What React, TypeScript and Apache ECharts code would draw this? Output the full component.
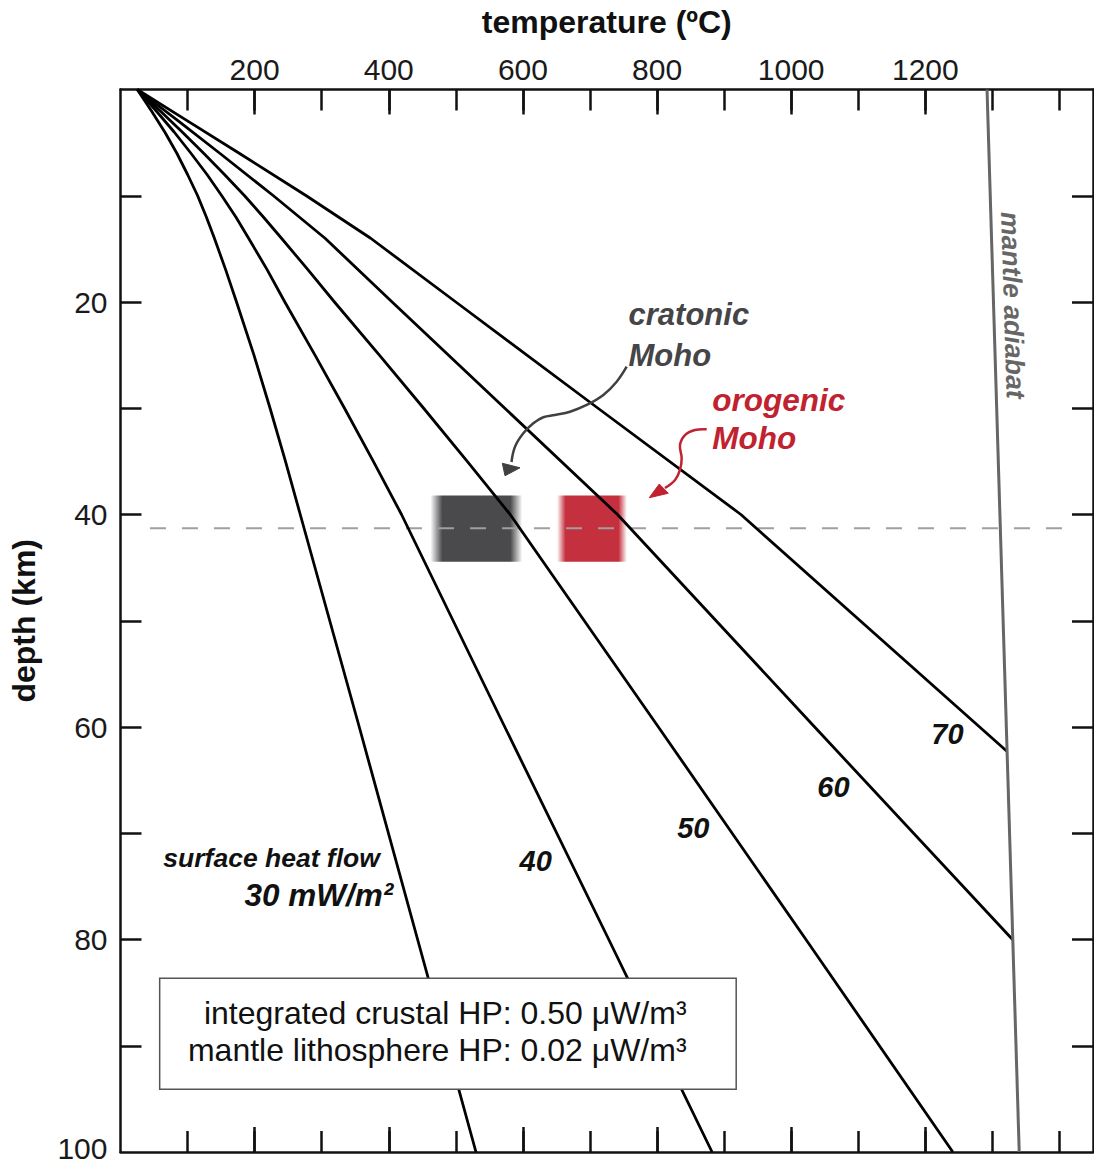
import React, { useEffect, useRef } from "react";
import * as echarts from "echarts";

const FONT = '"Liberation Sans", Arial, Helvetica, sans-serif';

// axes
const X_MIN = 0;
const X_MAX = 1450;
const Y_MIN = 0;
const Y_MAX = 100;
const xLabelValues = [200, 400, 600, 800, 1000, 1200];
const xAllTicks = [100, 200, 300, 400, 500, 600, 700, 800, 900, 1000, 1100, 1200, 1300, 1400];
const xMajorTicks = [200, 400, 600, 800, 1000, 1200];
const yLabelValues = [20, 40, 60, 80, 100];
const yTicks = [10, 20, 30, 40, 50, 60, 70, 80, 90];

// geotherms (depth km, temperature °C)
const depth30 = [0, 2, 4, 6, 8, 10, 12, 14, 17, 20, 25, 30, 35, 40, 60, 80, 100];
const temp30 = [25, 46, 66, 84, 100, 115, 128, 140, 157, 173, 199, 223, 246, 268, 356, 443, 530];
const depth40 = [0, 2, 4, 6, 8, 10, 12, 14, 17, 20, 25, 30, 35, 40, 60, 80, 100];
const temp40 = [25, 53, 80, 105, 129, 151, 172, 191, 219, 245, 290, 334, 377, 419, 573, 728, 882];
const depth50 = [0, 2, 4, 6, 8, 10, 12, 14, 17, 20, 25, 30, 35, 40, 60, 80, 100];
const temp50 = [25, 59, 92, 124, 155, 185, 213, 240, 280, 319, 386, 452, 517, 581, 802, 1022, 1241];
const depth60 = [0, 3, 6, 10, 14, 20, 30, 40, 60, 80];
const temp60 = [25, 87, 148, 228, 305, 405, 573, 741, 1035, 1330];
const depth70 = [0, 3, 6, 10, 14, 20, 30, 40, 62.3];
const temp70 = [25, 101, 177, 277, 373, 500, 712, 925, 1322];

// mantle adiabat
const adiabatDepth = [0, 100];
const adiabatTemp = [1292, 1340];

// Moho reference line
const mohoDepth = 41.3;
const mohoTemp = [44, 1404];

// Moho temperature ranges
const cratonicT = [462, 599];
const orogenicT = [651, 755];
const mohoBandDepth = [38.2, 44.45];

// heat-flow labels [text, T, depth]
const flowLabels: [string, number, number][] = [
  ["70", 1233, 60.7],
  ["60", 1063, 65.6],
  ["50", 854, 69.5],
  ["40", 619, 72.6],
];

// annotation arrows (T, depth)
const cratonicArrowT = [754.7, 739.8, 719.9, 695.1, 670.2, 647.8, 630.4, 615.5, 600.6, 588.2, 583.0];
const cratonicArrowD = [26.09, 27.5, 28.75, 29.69, 30.33, 30.64, 30.85, 31.42, 32.36, 33.62, 35.06];
const cratonicHeadT = [573.3, 569.3, 595.7];
const cratonicHeadD = [36.35, 35.18, 35.6];
const orogenicArrowT = [874.0, 856.6, 841.7, 834.2, 836.7, 834.2, 826.8, 811.8];
const orogenicArrowD = [31.98, 32.05, 32.52, 33.46, 34.71, 35.81, 36.75, 37.51];
const orogenicHeadT = [788.4, 803.3, 816.8];
const orogenicHeadD = [38.42, 37.13, 38.0];

// legend box
const boxT = [58.4, 918];
const boxD = [83.65, 94.1];
const boxLines = ["integrated crustal HP: 0.50 μW/m³", "mantle lithosphere HP: 0.02 μW/m³"];
const boxLineD = [86.9, 90.4];
const boxTextT = 844;

const pairs = (t: number[], d: number[]) => t.map((v, i) => [v, d[i]]);

const geotherms = [
  { t: temp30, d: depth30 },
  { t: temp40, d: depth40 },
  { t: temp50, d: depth50 },
  { t: temp60, d: depth60 },
  { t: temp70, d: depth70 },
];

function hGrad(rgb: string, edge: number) {
  return new echarts.graphic.LinearGradient(0, 0, 1, 0, [
    { offset: 0, color: `rgba(${rgb},0)` },
    { offset: edge, color: `rgba(${rgb},1)` },
    { offset: 1 - edge, color: `rgba(${rgb},1)` },
    { offset: 1, color: `rgba(${rgb},0)` },
  ]);
}

export default function App() {
  const ref = useRef<HTMLDivElement>(null);
  useEffect(() => {
    if (!ref.current) return;
    const chart = echarts.init(ref.current, null, { renderer: "svg" });
    const gridBox = { left: 120.5, top: 89.5, right: 1, bottom: 13, outerBoundsMode: "none", containLabel: false };
    const axisLine = { show: true, onZero: false, lineStyle: { color: "#111", width: 2.5 } };
    const noLine = { show: false, onZero: false };
    const tickStyle = { color: "#111", width: 2.5 };
    const option: any = {
      animation: false,
      backgroundColor: "#ffffff",
      grid: [{ ...gridBox }, { ...gridBox }],
      xAxis: [
        {
          type: "value", gridIndex: 0, position: "top", min: X_MIN, max: X_MAX,
          axisLine,
          axisTick: { show: true, inside: true, length: 21, customValues: xAllTicks, lineStyle: tickStyle },
          axisLabel: {
            show: true, customValues: xLabelValues, fontSize: 30, color: "#1a1a1a", fontFamily: FONT, margin: 5,
            formatter: (v: number) => String(v),
          },
          splitLine: { show: false },
          name: "temperature (ºC)", nameLocation: "middle", nameGap: 52,
          nameTextStyle: { fontSize: 32, fontWeight: "bold", color: "#111", fontFamily: FONT },
        },
        {
          type: "value", gridIndex: 0, position: "bottom", min: X_MIN, max: X_MAX,
          axisLine,
          axisTick: { show: true, inside: true, length: 21, customValues: xAllTicks, lineStyle: tickStyle },
          axisLabel: { show: false },
          splitLine: { show: false },
        },
        {
          type: "value", gridIndex: 1, position: "top", min: X_MIN, max: X_MAX,
          axisLine: noLine,
          axisTick: { show: true, inside: true, length: 25, customValues: xMajorTicks, lineStyle: tickStyle },
          axisLabel: { show: false },
          splitLine: { show: false },
        },
        {
          type: "value", gridIndex: 1, position: "bottom", min: X_MIN, max: X_MAX,
          axisLine: noLine,
          axisTick: { show: true, inside: true, length: 25, customValues: xMajorTicks, lineStyle: tickStyle },
          axisLabel: { show: false },
          splitLine: { show: false },
        },
      ],
      yAxis: [
        {
          type: "value", gridIndex: 0, position: "left", inverse: true, min: Y_MIN, max: Y_MAX,
          axisLine,
          axisTick: { show: true, inside: true, length: 21, customValues: yTicks, lineStyle: tickStyle },
          axisLabel: {
            show: true, customValues: yLabelValues, fontSize: 30, color: "#1a1a1a", fontFamily: FONT, margin: 13,
            formatter: (v: number) => (v === 100 ? "{b|100}" : String(v)),
            rich: { b: { fontSize: 30, fontFamily: FONT, color: "#1a1a1a", padding: [0, 0, 7, 0] } },
          },
          splitLine: { show: false },
          name: "depth (km)", nameLocation: "middle", nameRotate: 90, nameGap: 81,
          nameTextStyle: { fontSize: 32, fontWeight: "bold", color: "#111", fontFamily: FONT },
        },
        {
          type: "value", gridIndex: 0, position: "right", inverse: true, min: Y_MIN, max: Y_MAX,
          axisLine,
          axisTick: { show: true, inside: true, length: 21, customValues: yTicks, lineStyle: tickStyle },
          axisLabel: { show: false },
          splitLine: { show: false },
        },
        {
          type: "value", gridIndex: 1, inverse: true, min: Y_MIN, max: Y_MAX, show: false,
          axisLine: noLine,
        },
      ],
      series: [
        {
          type: "line", xAxisIndex: 0, yAxisIndex: 0, z: 1, silent: true,
          data: [[cratonicT[0], mohoBandDepth[0]]], symbol: "none",
          lineStyle: { width: 0, opacity: 0 },
          markArea: {
            silent: true,
            data: [
              [
                { xAxis: cratonicT[0], yAxis: mohoBandDepth[0], itemStyle: { color: hGrad("74,74,76", 0.13), opacity: 1 } },
                { xAxis: cratonicT[1], yAxis: mohoBandDepth[1] },
              ],
              [
                { xAxis: orogenicT[0], yAxis: mohoBandDepth[0], itemStyle: { color: hGrad("196,48,62", 0.12), opacity: 1 } },
                { xAxis: orogenicT[1], yAxis: mohoBandDepth[1] },
              ],
            ],
          },
        },
        {
          type: "line", xAxisIndex: 0, yAxisIndex: 0, z: 3, silent: true, symbol: "none",
          data: [[mohoTemp[0], mohoDepth], [mohoTemp[1], mohoDepth]],
          lineStyle: { color: "#9f9f9f", width: 2, type: [16, 16] },
        },
        ...geotherms.map((g) => ({
          type: "line", xAxisIndex: 0, yAxisIndex: 0, z: 4, silent: true, symbol: "none",
          data: pairs(g.t, g.d),
          lineStyle: { color: "#000", width: 2.8, join: "round" },
        })),
        {
          type: "line", xAxisIndex: 0, yAxisIndex: 0, z: 4, silent: true, symbol: "none",
          data: pairs(adiabatTemp, adiabatDepth),
          lineStyle: { color: "#666", width: 3 },
        },
      ],
    };
    chart.setOption(option);

    const px = (t: number, d: number) => chart.convertToPixel({ gridIndex: 0 } as any, [t, d]) as number[];
    const boldItalic = (size: number) => ({ fontSize: size, fontWeight: "bold", fontStyle: "italic", fontFamily: FONT });

    const graphics: any[] = [];
    flowLabels.forEach(([txt, t, d]) => {
      const [x, y] = px(t, d);
      graphics.push({
        type: "text", x, y, z: 20,
        style: { text: txt, ...boldItalic(29), fill: "#111", align: "center", verticalAlign: "middle" },
      });
    });
    {
      const [x1, y1] = px(386.7, 72.3);
      graphics.push({ type: "text", x: x1, y: y1, z: 20, style: { text: "surface heat flow", ...boldItalic(26.5), fill: "#111", align: "right", verticalAlign: "middle" } });
      const [x2, y2] = px(406.7, 75.8);
      graphics.push({ type: "text", x: x2, y: y2, z: 20, style: { text: "30 mW/m²", ...boldItalic(31.5), fill: "#111", align: "right", verticalAlign: "middle" } });
    }
    {
      const [x1, y1] = px(757.5, 21.2);
      graphics.push({ type: "text", x: x1, y: y1, z: 20, style: { text: "cratonic", ...boldItalic(31), fill: "#454547", align: "left", verticalAlign: "middle" } });
      const [x2, y2] = px(757.5, 25.0);
      graphics.push({ type: "text", x: x2, y: y2, z: 20, style: { text: "Moho", ...boldItalic(31), fill: "#454547", align: "left", verticalAlign: "middle" } });
      const [x3, y3] = px(882.4, 29.2);
      graphics.push({ type: "text", x: x3, y: y3, z: 20, style: { text: "orogenic", ...boldItalic(31.5), fill: "#c1222f", align: "left", verticalAlign: "middle" } });
      const [x4, y4] = px(882.4, 32.8);
      graphics.push({ type: "text", x: x4, y: y4, z: 20, style: { text: "Moho", ...boldItalic(31.5), fill: "#c1222f", align: "left", verticalAlign: "middle" } });
    }
    {
      const [x, y] = px(1330.6, 20.3);
      graphics.push({
        type: "text", x, y, z: 20, rotation: -(88.3 * Math.PI) / 180,
        style: { text: "mantle adiabat", ...boldItalic(26.7), fill: "#666", align: "center", verticalAlign: "middle" },
      });
    }
    // arrows
    const arrow = (ts: number[], ds: number[], ht: number[], hd: number[], color: string) => {
      graphics.push({
        type: "polyline", z: 15,
        shape: { points: ts.map((t, i) => px(t, ds[i])), smooth: 0.4 },
        style: { stroke: color, lineWidth: 2.5, fill: "none" },
      });
      graphics.push({
        type: "polygon", z: 15,
        shape: { points: ht.map((t, i) => px(t, hd[i])) },
        style: { fill: color, stroke: color, lineWidth: 1 },
      });
    };
    arrow(cratonicArrowT, cratonicArrowD, cratonicHeadT, cratonicHeadD, "#404042");
    arrow(orogenicArrowT, orogenicArrowD, orogenicHeadT, orogenicHeadD, "#c1222f");

    // legend box
    {
      const [bx0, by0] = px(boxT[0], boxD[0]);
      const [bx1, by1] = px(boxT[1], boxD[1]);
      graphics.push({
        type: "rect", z: 18,
        shape: { x: bx0, y: by0, width: bx1 - bx0, height: by1 - by0 },
        style: { fill: "#fff", stroke: "#555", lineWidth: 1.5 },
      });
      boxLines.forEach((line, i) => {
        const [x, y] = px(boxTextT, boxLineD[i]);
        graphics.push({
          type: "text", x, y, z: 20,
          style: { text: line, fontSize: 32, fontFamily: FONT, fill: "#111", align: "right", verticalAlign: "middle" },
        });
      });
    }
    chart.setOption({ graphic: graphics });

    return () => chart.dispose();
  }, []);

  return (
    <div
      ref={ref}
      style={{ position: "fixed", left: 0, top: 0, width: 1094, height: 1165, background: "#fff" }}
    />
  );
}
